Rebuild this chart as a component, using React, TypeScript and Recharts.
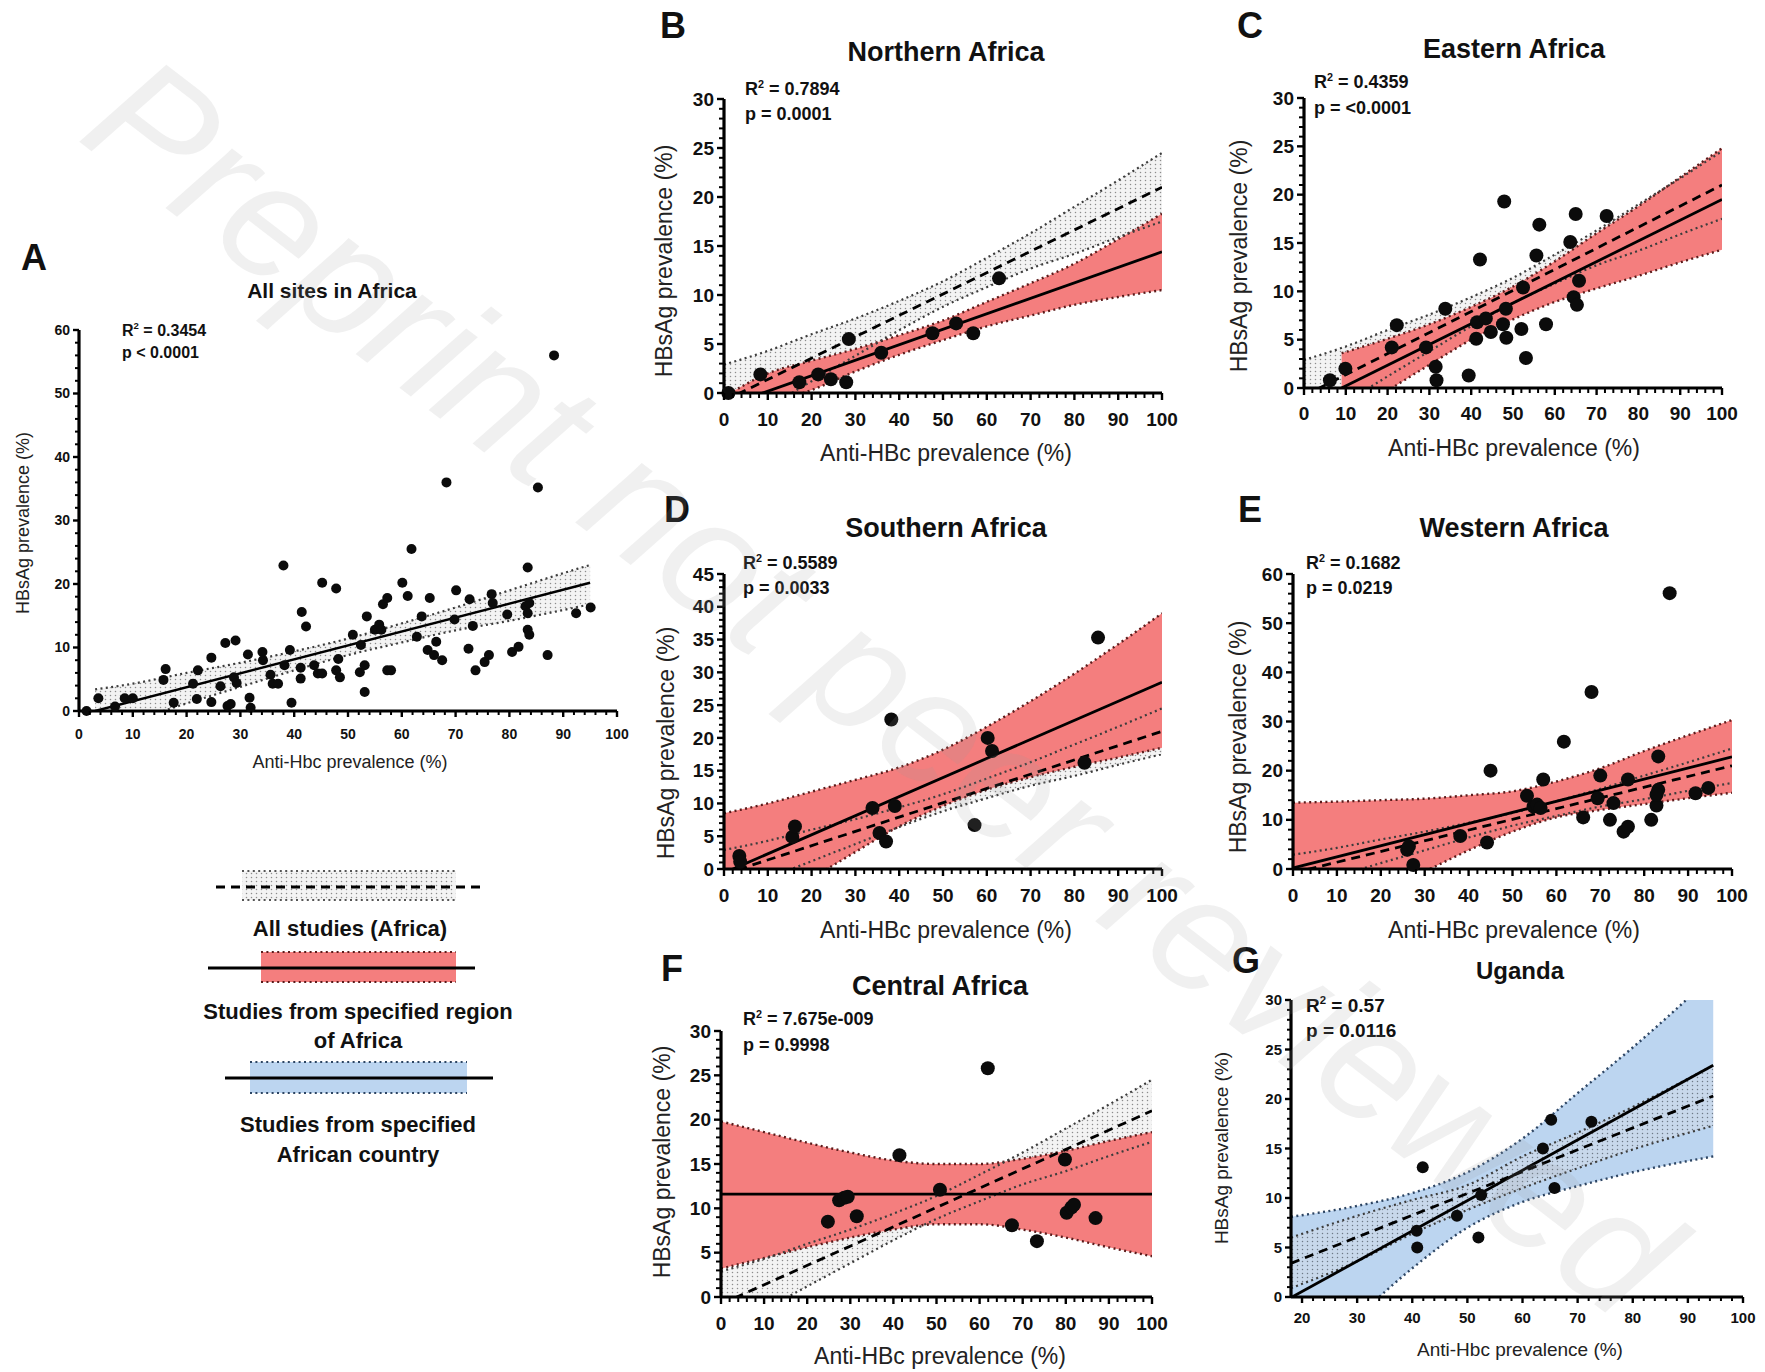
import React from 'react';
import { ComposedChart, Scatter, Line, Area, XAxis, YAxis } from 'recharts';

type Pt = [number, number];
type BandRow = [number, number, number]; // x, lower, upper

const FONT = "'Liberation Sans', Arial, Helvetica, sans-serif";

// ---------------- data ----------------
const ptsA: Pt[] = [
  [1.4, 0], [3.6, 2.0], [6.7, 0.7], [8.5, 2.0], [10, 2.0], [15.7, 4.9], [16.1, 6.6], [17.6, 1.3],
  [21.2, 4.3], [22.1, 6.4], [21.9, 1.9], [24.6, 8.4], [24.6, 1.4], [26.3, 3.9], [27.2, 10.7],
  [27.6, 0.8], [28.2, 1.1], [29.1, 11.1], [28.8, 5.3], [29.3, 4.4], [31.4, 8.9], [31.7, 2.1],
  [31.9, 0.5], [34.1, 9.3], [34.2, 8.0], [35.6, 5.7], [36.0, 4.3], [37.0, 4.3], [38.0, 22.9],
  [38.2, 7.2], [39.2, 9.6], [39.5, 1.3], [41.2, 6.8], [41.2, 5.1], [41.4, 15.6], [42.2, 13.3],
  [43.7, 7.2], [44.4, 5.9], [45.2, 20.2], [45.2, 5.9], [47.8, 19.3], [48.2, 8.2], [47.8, 6.4],
  [48.5, 5.3], [50.9, 12.0], [52.4, 10.4], [52.2, 6.1], [53.1, 7.2], [53.1, 3.0], [53.5, 14.9],
  [55.0, 12.8], [55.8, 13.6], [56.2, 12.8], [56.5, 16.8], [57.3, 17.8], [57.3, 6.4], [58.0, 6.4],
  [60.1, 20.2], [61.1, 18.1], [61.8, 25.5], [62.8, 11.7], [63.7, 14.9], [64.8, 9.6], [65.2, 17.8],
  [66.0, 8.8], [66.4, 10.9], [67.5, 8.0], [68.3, 36.0], [69.8, 14.4], [70.1, 19.0], [72.6, 17.6],
  [72.4, 9.8], [73.2, 13.4], [73.7, 6.4], [75.4, 7.7], [76.2, 8.8], [76.7, 18.4], [76.9, 17.0],
  [79.6, 15.2], [80.5, 9.3], [81.7, 10.1], [83.4, 22.6], [83.0, 16.5], [83.4, 15.4], [83.7, 17.0],
  [83.4, 12.8], [83.7, 12.0], [85.3, 35.2], [87.1, 8.8], [88.3, 56.0], [92.4, 15.4], [95.1, 16.3],
];
const ptsB: Pt[] = [
  [1.0, 0], [8.3, 1.9], [17.2, 1.1], [21.5, 1.9], [24.4, 1.4], [27.9, 1.1], [28.5, 5.5],
  [35.9, 4.1], [47.6, 6.1], [53.0, 7.1], [56.9, 6.1], [62.8, 11.7],
];
const ptsC: Pt[] = [
  [6.2, 0.8], [9.9, 2.0], [21.0, 4.2], [22.2, 6.5], [29.2, 4.2], [31.5, 2.2], [31.7, 0.8],
  [33.8, 8.2], [39.4, 1.3], [41.2, 5.1], [41.4, 6.8], [42.1, 13.3], [43.5, 7.2], [44.7, 5.8],
  [47.9, 19.3], [47.6, 6.6], [48.3, 8.2], [48.4, 5.2], [52.0, 6.1], [52.4, 10.4], [53.1, 3.1],
  [55.6, 13.7], [56.3, 16.9], [57.9, 6.6], [63.7, 15.1], [65.0, 18.0], [64.5, 9.4], [65.3, 8.6],
  [65.8, 11.1], [72.4, 17.8],
];
const ptsD: Pt[] = [
  [3.5, 2.0], [3.7, 1.1], [15.6, 4.9], [16.2, 6.5], [33.9, 9.3], [35.5, 5.5], [37.0, 4.2],
  [38.2, 22.8], [39.0, 9.6], [57.2, 6.7], [60.2, 20.0], [61.2, 18.0], [82.3, 16.2], [85.4, 35.3],
];
const ptsE: Pt[] = [
  [26.0, 3.9], [26.4, 4.6], [27.4, 0.8], [38.1, 6.7], [44.2, 5.4], [45.0, 20.0], [53.3, 14.9],
  [54.8, 12.7], [55.6, 13.1], [56.4, 12.4], [57.0, 18.2], [61.7, 25.9], [66.1, 10.5], [68.0, 36.0],
  [69.4, 14.4], [70.0, 19.0], [72.2, 10.0], [73.0, 13.4], [75.3, 7.6], [76.3, 8.6], [76.3, 18.2],
  [81.6, 10.0], [82.8, 12.9], [83.2, 22.9], [83.2, 16.1], [82.8, 15.1], [85.8, 56.1], [91.7, 15.4],
  [94.6, 16.5],
];
const ptsF: Pt[] = [
  [24.8, 8.5], [27.4, 10.9], [28.6, 11.2], [29.4, 11.3], [31.5, 9.1], [41.4, 16.0], [50.8, 12.1],
  [61.9, 25.8], [67.5, 8.1], [73.3, 6.3], [79.8, 15.5], [80.2, 9.5], [81.3, 10.1], [81.9, 10.4],
  [86.9, 8.9],
];
const ptsG: Pt[] = [
  [40.8, 6.7], [40.9, 5.0], [41.9, 13.1], [48.1, 8.2], [52.0, 6.0], [52.5, 10.3], [63.7, 15.0],
  [65.2, 17.9], [65.8, 11.0], [72.5, 17.7],
];

// All studies (Africa) regression band & line
const bandAll: BandRow[] = [
  [0, -4.5, 2.9], [10, -1.5, 4.3], [20, 1.2, 6.0], [30, 3.8, 7.6], [40, 6.4, 9.4], [50, 8.8, 11.4],
  [60, 10.8, 13.8], [70, 12.7, 16.3], [80, 14.2, 19.0], [90, 15.9, 21.7], [100, 17.5, 24.5],
];
const fitAll: Pt[] = [[0, -0.8], [100, 21.0]];
const bandA: BandRow[] = [
  [3, -3.0, 3.4], [10, -1.5, 4.3], [20, 1.2, 6.0], [30, 3.8, 7.6], [40, 6.4, 9.4], [50, 8.8, 11.4],
  [60, 10.8, 13.8], [70, 12.7, 16.3], [80, 14.2, 19.0], [90, 15.9, 21.7], [95, 16.8, 23.0],
];
const fitA: Pt[] = [[3, 0.0], [95, 20.2]];

// Regional bands & lines
const bandB: BandRow[] = [
  [0, -3.6, -0.4], [10, -1.2, 2.0], [20, 0.3, 3.3], [30, 2.2, 4.5], [40, 3.9, 5.9], [50, 5.4, 7.4],
  [60, 6.8, 9.3], [70, 7.9, 11.2], [80, 9.0, 13.2], [90, 9.8, 15.7], [100, 10.5, 18.3],
];
const fitB: Pt[] = [[0, -1.4], [100, 14.4]];
const bandC: BandRow[] = [
  [9, -3.6, 3.6], [20, -0.3, 5.1], [30, 2.4, 6.6], [40, 5.0, 8.4], [50, 7.1, 10.5], [60, 8.9, 13.1],
  [70, 10.3, 16.0], [80, 11.6, 18.8], [90, 13.0, 21.8], [100, 14.3, 24.8],
];
const fitC: Pt[] = [[9, 0.0], [100, 19.5]];
const bandD: BandRow[] = [
  [0, -9.5, 8.5], [10, -5.3, 10.0], [20, -1.4, 11.8], [30, 2.6, 13.6], [40, 6.5, 15.5], [50, 9.6, 18.2],
  [60, 12.1, 21.7], [70, 14.0, 25.6], [80, 15.6, 29.8], [90, 17.0, 34.3], [100, 18.5, 39.0],
];
const fitD: Pt[] = [[0, -0.6], [100, 28.5]];
const bandE: BandRow[] = [
  [0, -13.0, 13.5], [10, -8.8, 13.7], [20, -4.6, 14.0], [30, -0.5, 14.3], [40, 3.8, 15.0], [50, 7.6, 15.8],
  [60, 10.5, 17.8], [70, 12.0, 20.5], [80, 13.2, 24.0], [90, 14.4, 27.2], [100, 15.5, 30.3],
];
const fitE: Pt[] = [[0, 0.2], [100, 22.8]];
const bandF: BandRow[] = [
  [0, 3.2, 19.8], [10, 4.4, 18.6], [20, 5.6, 17.4], [30, 6.7, 16.3], [40, 7.6, 15.4], [50, 8.2, 15.0],
  [60, 8.2, 15.0], [70, 7.6, 15.6], [80, 6.7, 16.5], [90, 5.6, 17.6], [100, 4.6, 18.6],
];
const fitF: Pt[] = [[0, 11.6], [100, 11.6]];
const bandG: BandRow[] = [
  [18, -8.0, 8.1], [30, -2.0, 9.2], [40, 2.9, 10.5], [50, 7.0, 12.6], [60, 9.6, 16.0], [70, 11.2, 20.6],
  [80, 12.6, 25.2], [94.6, 14.2, 32.5],
];
const fitG: Pt[] = [[18.2, 0.0], [94.6, 23.4]];
const bandGAll: BandRow[] = [
  [18, 0.9, 6.0], [30, 3.6, 8.2], [40, 6.4, 9.8], [50, 8.8, 11.3], [60, 11.0, 14.2], [70, 13.0, 16.6],
  [80, 14.9, 19.2], [94.6, 17.3, 23.4],
];
const fitGAll: Pt[] = [[18, 3.4], [94.6, 20.3]];

// tick labels
const xMajor100 = [0, 10, 20, 30, 40, 50, 60, 70, 80, 90, 100];
const xMajorG = [20, 30, 40, 50, 60, 70, 80, 90, 100];
const yMajor30 = [0, 5, 10, 15, 20, 25, 30];
const yMajor45 = [0, 5, 10, 15, 20, 25, 30, 35, 40, 45];
const yMajor60 = [0, 10, 20, 30, 40, 50, 60];

const steps = (a: number, b: number, s: number) => {
  const r: number[] = [];
  for (let v = a; v <= b + 1e-9; v += s) r.push(Math.round(v * 100) / 100);
  return r;
};

// ---------------- panel config ----------------
type Cfg = {
  id: string;
  pl: number; pt: number; pw: number; ph: number;
  xDomain: [number, number]; yDomain: [number, number];
  xMajor: number[]; yMajor: number[]; xMinor: number; yMinor: number;
  tickFont: number; xLabelDy: number; majLen: number; minLen: number; dotR: number;
  points: Pt[];
  greyBand?: BandRow[]; greyFit?: Pt[]; greyFitSolid?: boolean; greyOver?: boolean; greyFill?: string;
  regBand?: BandRow[]; regFit?: Pt[]; regColor?: string; regEdge?: string;
};

const RED = '#f47e7e';
const BLUE = '#bcd5f0';

const panels: Cfg[] = [
  { id: 'A', pl: 79, pt: 330, pw: 538, ph: 381, xDomain: [0, 100], yDomain: [0, 60],
    xMajor: xMajor100, yMajor: yMajor60, xMinor: 2, yMinor: 2, tickFont: 14, xLabelDy: 28,
    majLen: 6, minLen: 4, dotR: 5, points: ptsA, greyBand: bandA, greyFit: fitA, greyFitSolid: true,
    greyFill: 'url(#stip)' },
  { id: 'B', pl: 724, pt: 99, pw: 438, ph: 294, xDomain: [0, 100], yDomain: [0, 30],
    xMajor: xMajor100, yMajor: yMajor30, xMinor: 2, yMinor: 1, tickFont: 19, xLabelDy: 33,
    majLen: 7, minLen: 5, dotR: 7, points: ptsB, greyBand: bandAll, greyFit: fitAll, greyFill: 'url(#stip)',
    regBand: bandB, regFit: fitB, regColor: RED, regEdge: '#5b1b1b' },
  { id: 'C', pl: 1304, pt: 98, pw: 418, ph: 290, xDomain: [0, 100], yDomain: [0, 30],
    xMajor: xMajor100, yMajor: yMajor30, xMinor: 2, yMinor: 1, tickFont: 19, xLabelDy: 32,
    majLen: 7, minLen: 5, dotR: 7, points: ptsC, greyBand: bandAll, greyFit: fitAll, greyFill: 'url(#stip)',
    regBand: bandC, regFit: fitC, regColor: RED, regEdge: '#5b1b1b' },
  { id: 'D', pl: 724, pt: 574, pw: 438, ph: 295, xDomain: [0, 100], yDomain: [0, 45],
    xMajor: xMajor100, yMajor: yMajor45, xMinor: 2, yMinor: 1, tickFont: 19, xLabelDy: 33,
    majLen: 7, minLen: 5, dotR: 7, points: ptsD, greyBand: bandAll, greyFit: fitAll, greyFill: 'url(#stip)',
    regBand: bandD, regFit: fitD, regColor: RED, regEdge: '#5b1b1b' },
  { id: 'E', pl: 1293, pt: 574, pw: 439, ph: 295, xDomain: [0, 100], yDomain: [0, 60],
    xMajor: xMajor100, yMajor: yMajor60, xMinor: 2, yMinor: 2, tickFont: 19, xLabelDy: 33,
    majLen: 7, minLen: 5, dotR: 7, points: ptsE, greyBand: bandAll, greyFit: fitAll, greyFill: 'url(#stip)',
    regBand: bandE, regFit: fitE, regColor: RED, regEdge: '#5b1b1b' },
  { id: 'F', pl: 721, pt: 1031, pw: 431, ph: 266, xDomain: [0, 100], yDomain: [0, 30],
    xMajor: xMajor100, yMajor: yMajor30, xMinor: 2, yMinor: 1, tickFont: 19, xLabelDy: 33,
    majLen: 7, minLen: 5, dotR: 7, points: ptsF, greyBand: bandAll, greyFit: fitAll, greyFill: 'url(#stip)',
    regBand: bandF, regFit: fitF, regColor: RED, regEdge: '#5b1b1b' },
  { id: 'G', pl: 1291, pt: 1000, pw: 452, ph: 297, xDomain: [18, 100], yDomain: [0, 30],
    xMajor: xMajorG, yMajor: yMajor30, xMinor: 2, yMinor: 1, tickFont: 15, xLabelDy: 26,
    majLen: 6, minLen: 4, dotR: 6, points: ptsG, greyBand: bandGAll, greyFit: fitGAll, greyOver: true,
    greyFill: 'url(#stipT)', regBand: bandG, regFit: fitG, regColor: BLUE, regEdge: '#2d4563' },
];

const buildRows = (c: Cfg) => {
  const rows: Record<string, any> = {};
  const put = (x: number, k: string, v: any) => {
    const key = String(x);
    if (!rows[key]) rows[key] = { x };
    rows[key][k] = v;
  };
  c.greyBand?.forEach(([x, lo, hi]) => put(x, 'gb', [lo, hi]));
  c.greyFit?.forEach(([x, y]) => put(x, 'gf', y));
  c.regBand?.forEach(([x, lo, hi]) => put(x, 'rb', [lo, hi]));
  c.regFit?.forEach(([x, y]) => put(x, 'rf', y));
  return Object.values(rows).sort((a: any, b: any) => a.x - b.x);
};

const ML = 70, MT = 12, MR = 20, XH = 50;

function Panel({ c }: { c: Cfg }) {
  const data = buildRows(c);
  const pts = c.points.map(([x, y]) => ({ x, y }));
  const xTicks = steps(c.xMajor[0], c.xDomain[1], c.xMinor);
  const yTicks = steps(c.yDomain[0], c.yDomain[1], c.yMinor);
  const xTick = (p: any) => {
    const v = p.payload.value;
    const major = c.xMajor.includes(v);
    const len = major ? c.majLen : c.minLen;
    return (
      <g>
        <line x1={p.x} x2={p.x} y1={p.y} y2={p.y + len} stroke="#000" strokeWidth={major ? 2.4 : 2} />
        {major && (
          <text x={p.x} y={p.y + c.xLabelDy} textAnchor="middle" fontFamily={FONT} fontWeight="bold"
            fontSize={c.tickFont} fill="#111">{v}</text>
        )}
      </g>
    );
  };
  const yTick = (p: any) => {
    const v = p.payload.value;
    const major = c.yMajor.includes(v);
    const len = major ? c.majLen : c.minLen;
    return (
      <g>
        <line x1={p.x} x2={p.x - len} y1={p.y} y2={p.y} stroke="#000" strokeWidth={major ? 2.4 : 2} />
        {major && (
          <text x={p.x - c.majLen - 3} y={p.y} dy="0.35em" textAnchor="end" fontFamily={FONT} fontWeight="bold"
            fontSize={c.tickFont} fill="#111">{v}</text>
        )}
      </g>
    );
  };
  const dot = (p: any) => <circle cx={p.cx} cy={p.cy} r={c.dotR} fill="#0b0b0b" />;
  const greyStrokeArea = c.greyBand ? (
    <Area key="gbs" dataKey="gb" type="monotone" fill="none" stroke="#3c3c3c" strokeWidth={2.2}
      strokeDasharray="2 3.4" connectNulls dot={false} activeDot={false} isAnimationActive={false} />
  ) : null;
  const greyFillArea = c.greyBand ? (
    <Area key="gbf" dataKey="gb" type="monotone" fill={c.greyFill} fillOpacity={1} stroke="none"
      connectNulls dot={false} activeDot={false} isAnimationActive={false} />
  ) : null;
  return (
    <div style={{ position: 'absolute', left: c.pl - ML, top: c.pt - MT }}>
      <ComposedChart width={c.pw + ML + MR} height={c.ph + MT + XH} data={data}
        margin={{ top: MT, right: MR, bottom: 0, left: 0 }}>
        <XAxis dataKey="x" type="number" domain={c.xDomain} allowDataOverflow ticks={xTicks} interval={0}
          tickSize={0} tickMargin={0} tickLine={false} axisLine={{ stroke: '#000', strokeWidth: 3.2 }}
          tick={xTick} height={XH} />
        <YAxis type="number" domain={c.yDomain} allowDataOverflow ticks={yTicks} interval={0}
          tickSize={0} tickMargin={0} tickLine={false} axisLine={{ stroke: '#000', strokeWidth: 3.2 }}
          tick={yTick} width={ML} />
        <XAxis xAxisId="s" dataKey="x" type="number" domain={c.xDomain} hide />
        <YAxis yAxisId="s" dataKey="y" type="number" domain={c.yDomain} hide />
        {!c.greyOver && greyFillArea}
        {c.regBand && (
          <Area dataKey="rb" type="monotone" fill={c.regColor} fillOpacity={1} stroke={c.regEdge}
            strokeWidth={2.4} strokeDasharray="2 3.4" connectNulls dot={false} activeDot={false}
            isAnimationActive={false} />
        )}
        {c.greyOver && greyFillArea}
        {greyStrokeArea}
        {c.greyFit && (
          <Line dataKey="gf" type="linear" stroke="#000" strokeWidth={c.greyFitSolid ? 2.4 : 2.8}
            strokeDasharray={c.greyFitSolid ? undefined : '9 6'} connectNulls dot={false} activeDot={false}
            isAnimationActive={false} />
        )}
        {c.regFit && (
          <Line dataKey="rf" type="linear" stroke="#000" strokeWidth={2.8} connectNulls dot={false}
            activeDot={false} isAnimationActive={false} />
        )}
        <Scatter xAxisId="s" yAxisId="s" data={pts} dataKey="y" fill="#000" shape={dot}
          isAnimationActive={false} />
      </ComposedChart>
    </div>
  );
}

// ---------------- annotation text ----------------
type TextSpec = { id: string; letter: [number, number]; title: string; titlePos: [number, number];
  titleSize: number; r2: string; p: string; statPos: [number, number, number]; statSize: number;
  yLabel: [number, number]; xLabel: [number, number]; xText: string; axisSize: number };

const texts: TextSpec[] = [
  { id: 'A', letter: [34, 257], title: 'All sites in Africa', titlePos: [332, 290], titleSize: 21,
    r2: '0.3454', p: 'p < 0.0001', statPos: [122, 330, 352], statSize: 16, yLabel: [23, 523],
    xLabel: [350, 762], xText: 'Anti-Hbc prevalence (%)', axisSize: 18 },
  { id: 'B', letter: [673, 25], title: 'Northern Africa', titlePos: [946, 51], titleSize: 27,
    r2: '0.7894', p: 'p = 0.0001', statPos: [745, 89, 114], statSize: 18, yLabel: [664, 261],
    xLabel: [946, 453], xText: 'Anti-HBc prevalence (%)', axisSize: 23 },
  { id: 'C', letter: [1250, 25], title: 'Eastern Africa', titlePos: [1514, 48], titleSize: 27,
    r2: '0.4359', p: 'p = <0.0001', statPos: [1314, 82, 108], statSize: 18, yLabel: [1239, 256],
    xLabel: [1514, 448], xText: 'Anti-HBc prevalence (%)', axisSize: 23 },
  { id: 'D', letter: [677, 509], title: 'Southern Africa', titlePos: [946, 527], titleSize: 27,
    r2: '0.5589', p: 'p = 0.0033', statPos: [743, 563, 588], statSize: 18, yLabel: [666, 743],
    xLabel: [946, 930], xText: 'Anti-HBc prevalence (%)', axisSize: 23 },
  { id: 'E', letter: [1250, 509], title: 'Western Africa', titlePos: [1514, 527], titleSize: 27,
    r2: '0.1682', p: 'p = 0.0219', statPos: [1306, 563, 588], statSize: 18, yLabel: [1238, 737],
    xLabel: [1514, 930], xText: 'Anti-HBc prevalence (%)', axisSize: 23 },
  { id: 'F', letter: [672, 968], title: 'Central Africa', titlePos: [940, 985], titleSize: 27,
    r2: '7.675e-009', p: 'p = 0.9998', statPos: [743, 1019, 1045], statSize: 18, yLabel: [662, 1162],
    xLabel: [940, 1356], xText: 'Anti-HBc prevalence (%)', axisSize: 23 },
  { id: 'G', letter: [1246, 960], title: 'Uganda', titlePos: [1520, 970], titleSize: 24,
    r2: '0.57', p: 'p = 0.0116', statPos: [1306, 1005, 1030], statSize: 19, yLabel: [1221, 1148],
    xLabel: [1520, 1349], xText: 'Anti-Hbc prevalence (%)', axisSize: 19 },
];

const legendLabels = [
  ['All studies (Africa)'],
  ['Studies from specified region', 'of Africa'],
  ['Studies from specified', 'African country'],
];

function Overlay() {
  const dotted = (x1: number, x2: number, y: number, col: string) => (
    <line x1={x1} x2={x2} y1={y} y2={y} stroke={col} strokeWidth={2} strokeDasharray="2 3.4" />
  );
  return (
    <svg width={1765} height={1372} style={{ position: 'absolute', left: 0, top: 0, pointerEvents: 'none' }}>
      <defs>
        <pattern id="stip" width="5" height="4" patternUnits="userSpaceOnUse">
          <rect width="5" height="4" fill="#f3f3f3" />
          <circle cx="1.5" cy="1.5" r="0.75" fill="#8c8c8c" />
        </pattern>
        <pattern id="stipT" width="5" height="4" patternUnits="userSpaceOnUse">
          <rect width="5" height="4" fill="#d8dde4" fillOpacity="0.45" />
          <circle cx="1.5" cy="1.5" r="0.75" fill="#6f7a88" />
        </pattern>
      </defs>
      {texts.map((t) => (
        <g key={t.id} fontFamily={FONT} fill="#111">
          <text x={t.letter[0]} y={t.letter[1]} dy="0.36em" textAnchor="middle" fontWeight="bold" fontSize={36}>{t.id}</text>
          <text x={t.titlePos[0]} y={t.titlePos[1]} dy="0.36em" textAnchor="middle" fontWeight="bold" fontSize={t.titleSize}>{t.title}</text>
          <text x={t.statPos[0]} y={t.statPos[1]} dy="0.36em" fontWeight="bold" fontSize={t.statSize}>
            R<tspan dy={-0.4 * t.statSize} fontSize={t.statSize * 0.6}>2</tspan>
            <tspan dy={0.4 * t.statSize}>{' = ' + t.r2}</tspan>
          </text>
          <text x={t.statPos[0]} y={t.statPos[2]} dy="0.36em" fontWeight="bold" fontSize={t.statSize}>{t.p}</text>
          <text x={t.yLabel[0]} y={t.yLabel[1]} dy="0.36em" textAnchor="middle" fontSize={t.axisSize} fill="#222"
            transform={`rotate(-90 ${t.yLabel[0]} ${t.yLabel[1]})`}>HBsAg prevalence (%)</text>
          <text x={t.xLabel[0]} y={t.xLabel[1]} dy="0.36em" textAnchor="middle" fontSize={t.axisSize} fill="#222">{t.xText}</text>
        </g>
      ))}
      {/* legend */}
      <g>
        <rect x={242} y={871} width={214} height={29} fill="url(#stip)" />
        {dotted(242, 456, 871, '#555')}
        {dotted(242, 456, 900, '#555')}
        <line x1={216} x2={484} y1={887} y2={887} stroke="#000" strokeWidth={3} strokeDasharray="9 6" />
        <rect x={261} y={952} width={195} height={30} fill={RED} />
        {dotted(261, 456, 952, '#5b1b1b')}
        {dotted(261, 456, 982, '#5b1b1b')}
        <line x1={208} x2={475} y1={968} y2={968} stroke="#000" strokeWidth={3} />
        <rect x={250} y={1062} width={217} height={31} fill={BLUE} />
        {dotted(250, 467, 1062, '#2d4563')}
        {dotted(250, 467, 1093, '#2d4563')}
        <line x1={225} x2={493} y1={1078} y2={1078} stroke="#000" strokeWidth={3} />
        <g fontFamily={FONT} fontWeight="bold" fontSize={22} fill="#111" textAnchor="middle">
          <text x={350} y={928} dy="0.36em">{legendLabels[0][0]}</text>
          <text x={358} y={1011} dy="0.36em">{legendLabels[1][0]}</text>
          <text x={358} y={1040} dy="0.36em">{legendLabels[1][1]}</text>
          <text x={358} y={1124} dy="0.36em">{legendLabels[2][0]}</text>
          <text x={358} y={1154} dy="0.36em">{legendLabels[2][1]}</text>
        </g>
      </g>
      {/* watermark */}
      <text x={884} y={684} dy="0.36em" textAnchor="middle" fontFamily={FONT} fontStyle="italic" fontSize={166}
        fill="#9a9a9a" fillOpacity={0.15} transform="rotate(37.5 884 684)">Preprint not peer reviewed</text>
    </svg>
  );
}

export default function App() {
  return (
    <div style={{ position: 'absolute', left: 0, top: 0, width: 1765, height: 1372, background: '#fff', overflow: 'hidden' }}>
      {panels.map((c) => <Panel key={c.id} c={c} />)}
      <Overlay />
    </div>
  );
}
